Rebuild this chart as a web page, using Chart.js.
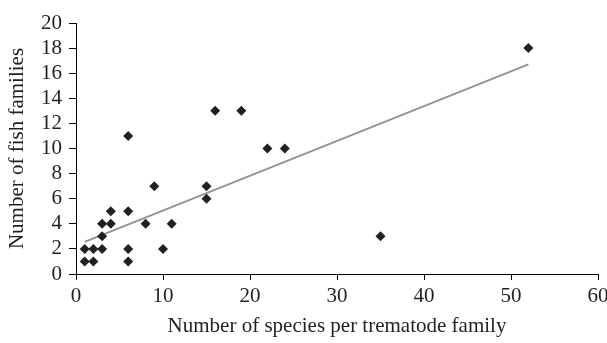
<!DOCTYPE html>
<html><head><meta charset="utf-8">
<script src="https://cdn.jsdelivr.net/npm/chart.js@4/dist/chart.umd.min.js"></script>
<style>html,body{margin:0;padding:0;background:#fff}#wrap{width:607px;height:343px}</style>
</head><body><div id="wrap"><canvas id="c" width="607" height="343"></canvas></div>
<script>
const speciesPerFamily = [52,35,1,1,2,2,3,3,3,4,4,6,6,6,6,8,9,10,11,15,15,16,19,22,24];
const fishFamilies     = [18,3,2,1,2,1,4,3,2,5,4,11,5,2,1,4,7,2,4,7,6,13,13,10,10];
const trendX = [1, 52];
const trendY = [2.56, 16.7];
const xTicks = [0,10,20,30,40,50,60];
const yTicks = [0,2,4,6,8,10,12,14,16,18,20];

const pts = speciesPerFamily.map((x,i)=>({x:x,y:fishFamilies[i]}));
const trend = trendX.map((x,i)=>({x:x,y:trendY[i]}));
const serif = "'Liberation Serif','Times New Roman',serif";

new Chart(document.getElementById('c'), {
  type:'scatter',
  data:{datasets:[
    {data:trend, showLine:true, borderColor:'#939393', borderWidth:2, pointRadius:0, order:2},
    {data:pts, pointStyle:'rectRot', pointRadius:5, backgroundColor:'#231f20', borderColor:'#231f20', borderWidth:0, order:1}
  ]},
  options:{
    responsive:false, animation:false,
    layout:{autoPadding:false, padding:{left:0,right:9,top:23,bottom:0}},
    plugins:{legend:{display:false},tooltip:{enabled:false}},
    scales:{
      x:{type:'linear', min:0, max:60,
        afterBuildTicks:s=>{s.ticks=xTicks.map(v=>({value:v}));},
        afterFit:s=>{s.height=69; s.paddingRight=0; s.paddingLeft=0;},
        border:{color:'#000',width:1},
        grid:{drawOnChartArea:false, drawTicks:true, tickLength:6, color:'#000'},
        ticks:{color:'#231f20', font:{family:serif,size:21}, padding:4, maxRotation:0, autoSkip:false},
        title:{display:true, text:'Number of species per trematode family', color:'#231f20', font:{family:serif,size:21}, padding:{top:7}}
      },
      y:{type:'linear', min:0, max:20,
        afterBuildTicks:s=>{s.ticks=yTicks.map(v=>({value:v}));},
        afterFit:s=>{s.width=76; s.paddingTop=0; s.paddingBottom=0;},
        border:{color:'#000',width:1},
        grid:{drawOnChartArea:false, drawTicks:true, tickLength:7, color:'#000'},
        ticks:{color:'#231f20', font:{family:serif,size:21, lineHeight:1}, padding:7, autoSkip:false},
        title:{display:true, text:'Number of fish families', color:'#231f20', font:{family:serif,size:21}, padding:{top:5,bottom:0}}
      }
    }
  }
});
</script></body></html>
